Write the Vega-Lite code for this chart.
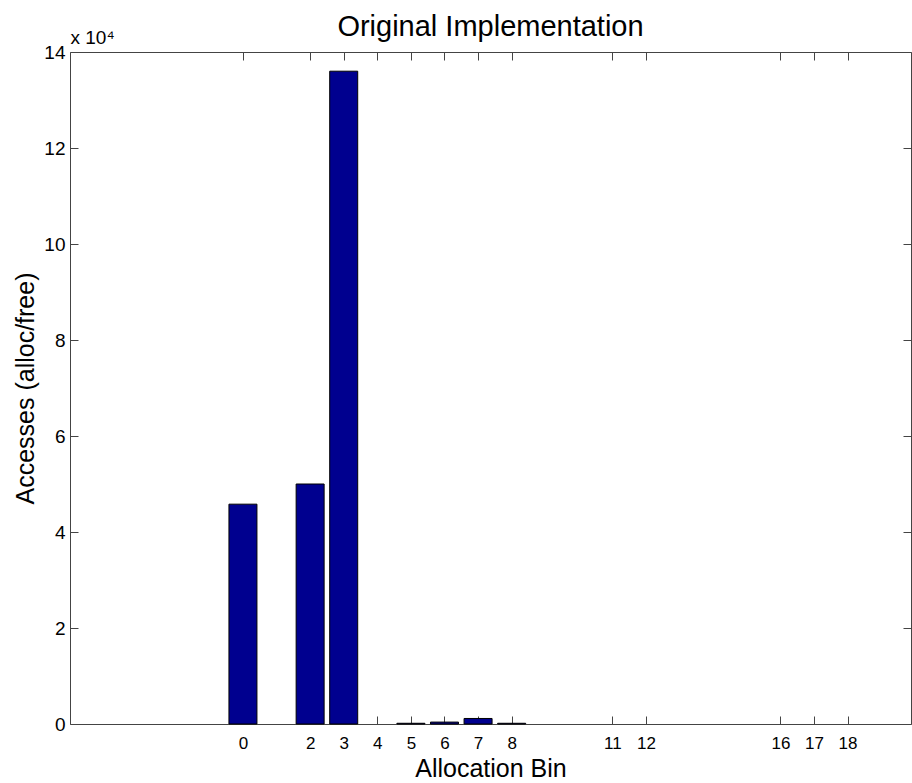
{
  "$schema": "https://vega.github.io/schema/vega-lite/v6.json",
  "autosize": "none",
  "padding": {"left": 70, "top": 52, "right": 1, "bottom": 59},
  "width": 841,
  "height": 672,
  "background": "white",
  "config": {
    "font": "Liberation Sans",
    "view": {"stroke": null},
    "axis": {"grid": false, "domainColor": "#444", "tickColor": "#444", "labelColor": "black", "titleColor": "black", "titleFontWeight": "normal", "labelFont": "Liberation Sans", "titleFont": "Liberation Sans"}
  },
  "title": {"text": "Original Implementation", "fontSize": 29, "fontWeight": "normal", "font": "Liberation Sans", "anchor": "middle", "frame": "group", "baseline": "bottom", "offset": 13, "dy": 56, "color": "black"},
  "data": {"values": [
    {"bin": 0, "accesses": 45800},
    {"bin": 2, "accesses": 50000},
    {"bin": 3, "accesses": 136000},
    {"bin": 5, "accesses": 150},
    {"bin": 6, "accesses": 400},
    {"bin": 7, "accesses": 1150},
    {"bin": 8, "accesses": 150}
  ]},
  "layer": [
    {
      "mark": {"type": "bar", "size": 28, "color": "#00008F", "stroke": "black", "strokeWidth": 1},
      "encoding": {
        "x": {"field": "bin", "type": "quantitative",
          "scale": {"domain": [-5, 19.74], "nice": false, "zero": false},
          "axis": {"orient": "bottom", "values": [0, 2, 3, 4, 5, 6, 7, 8, 11, 12, 16, 17, 18], "tickSize": -8, "labelPadding": 19, "labelFontSize": 17, "labelFlush": false, "labelOverlap": false,
            "title": "Allocation Bin", "titleFontSize": 25, "titleY": 44, "titleBaseline": "middle"}},
        "y": {"field": "accesses", "type": "quantitative",
          "scale": {"domain": [0, 140000], "nice": false},
          "axis": {"orient": "left", "values": [0, 20000, 40000, 60000, 80000, 100000, 120000, 140000], "labelExpr": "datum.value / 10000", "tickSize": -8, "labelPadding": 13, "labelFontSize": 19, "labelOverlap": false,
            "title": "Accesses (alloc/free)", "titleFontSize": 25, "titleX": -45, "titleY": 336, "titleAngle": -90, "titleBaseline": "middle", "titleAlign": "center"}}
      }
    },
    {
      "mark": {"type": "bar", "size": 28, "opacity": 0},
      "encoding": {
        "x": {"field": "bin", "type": "quantitative",
          "axis": {"orient": "top", "values": [0, 2, 3, 4, 5, 6, 7, 8, 11, 12, 16, 17, 18], "tickSize": -8, "labels": false, "title": null}},
        "y": {"field": "accesses", "type": "quantitative",
          "axis": {"orient": "right", "values": [0, 20000, 40000, 60000, 80000, 100000, 120000, 140000], "tickSize": -8, "labels": false,
            "title": "x 10⁴", "titleFontSize": 19, "titleAngle": 0, "titleX": -841, "titleY": -9, "titleAlign": "left", "titleBaseline": "alphabetic"}}
      }
    }
  ],
  "resolve": {"axis": {"x": "independent", "y": "independent"}}
}
